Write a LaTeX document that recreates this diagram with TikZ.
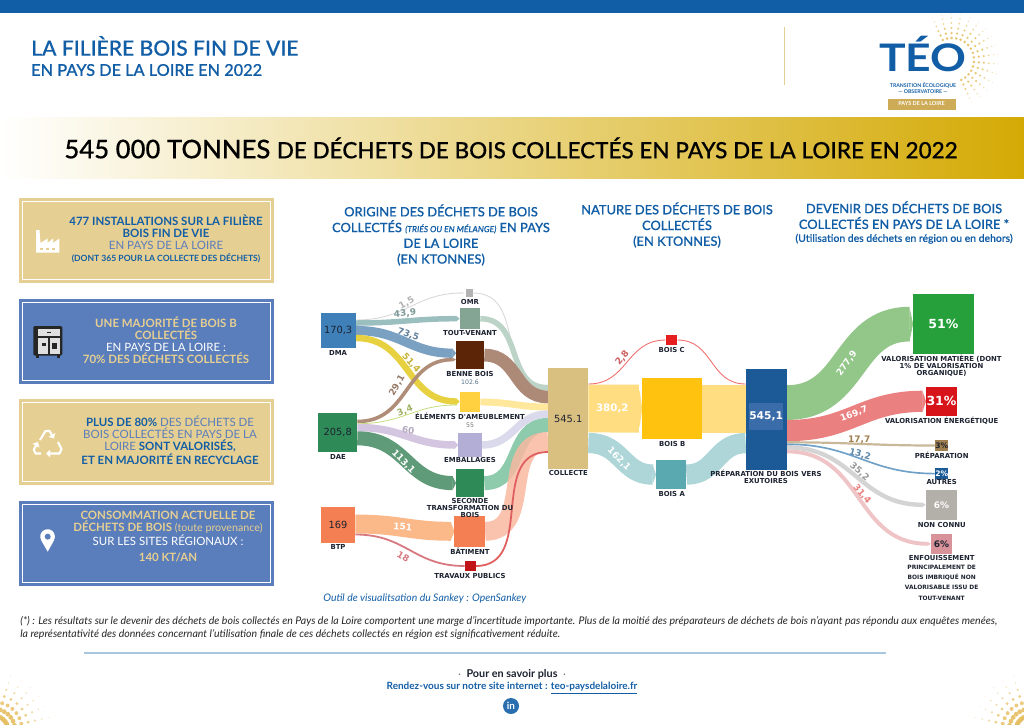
\documentclass[tikz,border=0pt]{standalone}
\usepackage{fontspec}
\usetikzlibrary{calc}
\usetikzlibrary{arrows.meta}
\usetikzlibrary{backgrounds}
\setmainfont{Lato}
\newfontfamily\medf[FakeBold=0.3]{Lato Medium}
\newfontfamily\sank{DejaVu Sans}

\definecolor{teoblue}{HTML}{125EA6}
\definecolor{midblue}{HTML}{5A7DBB}
\definecolor{teogold}{HTML}{E6CF92}
\definecolor{dotgold}{HTML}{E5BE60}
\definecolor{txtdark}{HTML}{1C2230}
\definecolor{bandend}{HTML}{D4AA05}
\definecolor{fomr}{HTML}{D8D8D8}
\definecolor{ftv}{HTML}{BCD3C8}
\definecolor{fbenne}{HTML}{AD8A78}
\definecolor{fameub}{HTML}{FFE89C}
\definecolor{femb}{HTML}{DADAEC}
\definecolor{fsec}{HTML}{84C5A5}
\definecolor{fbat}{HTML}{F8B9A0}
\definecolor{ftp}{HTML}{E06060}
\definecolor{dmatv}{HTML}{9BBFBF}
\definecolor{dmabe}{HTML}{7BA1C2}
\definecolor{dmaam}{HTML}{E8D140}
\definecolor{daebe}{HTML}{B08D78}
\definecolor{daeam}{HTML}{C5DD7C}
\definecolor{daeem}{HTML}{D4C6E0}
\definecolor{daese}{HTML}{5F9B78}
\definecolor{btpba}{HTML}{FBB98A}
\definecolor{btptp}{HTML}{D87880}
\definecolor{fboisb}{HTML}{FFDD80}
\definecolor{fboisa}{HTML}{AED6D8}
\definecolor{fboisc}{HTML}{F07070}
\definecolor{fmat}{HTML}{93C78A}
\definecolor{fene}{HTML}{EB8080}
\definecolor{fpre}{HTML}{C9B898}
\definecolor{faut}{HTML}{6FA0C8}
\definecolor{fnon}{HTML}{D4D4D4}
\definecolor{fenf}{HTML}{EFC4C6}
\definecolor{ndma}{HTML}{3F80B8}
\definecolor{ndae}{HTML}{2E8B57}
\definecolor{nbtp}{HTML}{F47F52}
\definecolor{nomr}{HTML}{B3B3B3}
\definecolor{ntv}{HTML}{85A594}
\definecolor{nbenne}{HTML}{5C2508}
\definecolor{nameub}{HTML}{FFD140}
\definecolor{nemb}{HTML}{B3AED6}
\definecolor{ntp}{HTML}{C01418}
\definecolor{ncoll}{HTML}{D9BF80}
\definecolor{nboisc}{HTML}{E62020}
\definecolor{nboisb}{HTML}{FFC20E}
\definecolor{nboisa}{HTML}{5BA9B0}
\definecolor{nprep}{HTML}{1B5A96}
\definecolor{nmat}{HTML}{26A03A}
\definecolor{nene}{HTML}{D7141A}
\definecolor{npre}{HTML}{A08050}
\definecolor{nnon}{HTML}{B3B0AA}
\definecolor{nenf}{HTML}{D8929A}

\tikzset{
  fw/.style={line width=#1*0.7113pt},
  flow/.style={fw=#1, out=0, in=180, looseness=1.15},
  tipped/.style={-{Triangle[length=2.6pt,width=0pt 1]}},
  bx/.style 2 args={draw=none, inner sep=0pt, outer sep=0pt, minimum width=#1*0.025cm, minimum height=#2*0.025cm},
  tag/.style={font=\sank\bfseries\fontsize{4.9}{5}\selectfont, text=txtdark, inner sep=0pt, align=center},
  val/.style={font=\sank\fontsize{7}{8}\selectfont, text=txtdark},
  pct/.style={font=\sank\bfseries\fontsize{8.9}{9}\selectfont, text=white},
  flab/.style={font=\sank\bfseries\fontsize{6.4}{7}\selectfont, inner sep=0pt},
  panel/.style={fw=1.6, draw=white, fill=none},
  sectitle/.style={font=\medf\fontsize{9.15}{11.2}\selectfont, text=teoblue, align=center, inner sep=0pt},
  boxtxt/.style={font=\fontsize{8.15}{8.55}\selectfont, align=center, inner sep=0pt},
  recy/.style={white, fw=2.1, line join=round, -{Triangle[length=3pt,width=5.4pt]}},
}

\begin{document}
\begin{tikzpicture}[x=0.025cm,y=-0.025cm]
\useasboundingbox (0,0) rectangle (1024,724);

\foreach \r/\s/\o in {22/1.4/.9,27/1.3/.85,32/1.2/.8,37/1/.65,42/.8/.5,46/.6/.35}
  \foreach \a in {-115,-103,...,75}
    \fill[dotgold, opacity=\o] ($(952,60)+(\a:\r)$) circle (\s);

\fill[teoblue] (0,0) rectangle (1024,13);
\node[anchor=west, text=teoblue, font=\medf\fontsize{15}{16}\selectfont, inner sep=0pt] (maintitle) at (31,46) {LA FILIÈRE BOIS FIN DE VIE};
\node[anchor=west, text=teoblue, font=\medf\fontsize{11.6}{12}\selectfont, inner sep=0pt] (subtitle) at (31,70) {EN PAYS DE LA LOIRE EN 2022};
\draw[teogold, fw=1] (784,27)--(784,85);

\node[anchor=base, text=teoblue, font=\bfseries\fontsize{27}{30}\selectfont, inner sep=0pt] (teo) at (923,71) {\scalebox{1.17}[1]{TÉO}};
\node[text=teoblue, font=\bfseries\fontsize{3.7}{4.8}\selectfont, align=center, inner sep=0pt] (teosub) at (923,88) {TRANSITION ÉCOLOGIQUE\\--- OBSERVATOIRE ---};
\node[bx={68}{11}, fill=dotgold!90!black, text=white, font=\bfseries\fontsize{3.9}{4}\selectfont] (teopays) at (921.5,104) {PAYS DE LA LOIRE};

\shade[left color=white, middle color=teogold!92!white, right color=bandend] (0,117) rectangle (1024,178);
\node[inner sep=0pt, text=black] (banner) at (511,148) {\medf\fontsize{18.3}{20}\selectfont 545 000 TONNES \fontsize{16}{20}\selectfont DE DÉCHETS DE BOIS COLLECTÉS EN PAYS DE LA LOIRE EN 2022};

\filldraw[fill=teogold, draw=none] (19,198) rectangle (274,283);
\draw[panel] (22.5,201.5) rectangle (270.5,279.5);
\filldraw[fill=midblue, draw=none] (19,299) rectangle (274,384);
\draw[panel] (22.5,302.5) rectangle (270.5,380.5);
\filldraw[fill=teogold, draw=none] (19,399) rectangle (274,485);
\draw[panel] (22.5,402.5) rectangle (270.5,481.5);
\filldraw[fill=midblue, draw=none] (19,501) rectangle (274,586);
\draw[panel] (22.5,504.5) rectangle (270.5,582.5);

\node[boxtxt, text=teoblue] (info1) at (166,239) {\bfseries 477 INSTALLATIONS SUR LA FILIÈRE\\ \bfseries BOIS FIN DE VIE\\ \textcolor{midblue}{EN PAYS DE LA LOIRE}\\ \bfseries\fontsize{6.1}{8.55}\selectfont (DONT 365 POUR LA COLLECTE DES DÉCHETS)};
\node[boxtxt, text=teogold] (info2) at (166,340) {\bfseries UNE MAJORITÉ DE BOIS B\\ \bfseries COLLECTÉS\\ \textcolor{white}{EN PAYS DE LA LOIRE :}\\ \bfseries 70\% DES DÉCHETS COLLECTÉS};
\node[boxtxt, text=midblue] (info3) at (170,440.5) {\textcolor{teoblue}{\bfseries PLUS DE 80\%} DES DÉCHETS DE\\ BOIS COLLECTÉS EN PAYS DE LA\\ LOIRE \textcolor{teoblue}{\bfseries SONT VALORISÉS,}\\ \textcolor{teoblue}{\bfseries ET EN MAJORITÉ EN RECYCLAGE}};
\node[boxtxt, text=teogold] (info4) at (168,536.5) {\bfseries CONSOMMATION ACTUELLE DE\\ \bfseries DÉCHETS DE BOIS {\mdseries\fontsize{7.6}{8.55}\selectfont(toute provenance)}\\ \textcolor{white}{SUR LES SITES RÉGIONAUX :}\\[3.2pt] \bfseries 140 KT/AN};

\fill[white] (36,252.7)--(36,230)--(39.5,230)--(40.5,243)--(47.5,238.5)--(47.5,243)--(53,238.5)--(53,243)--(59.3,238.5)--(59.3,252.7)--cycle;
\foreach \x in {40,46,52}
  \fill[teogold] (\x,247.5) rectangle (\x+3,249.5);

\filldraw[fill=black!85, draw=none, rounded corners=1] (33.3,326) rectangle (62.3,355.5);
\fill[black!85] (36,355) rectangle (39,357.7);
\fill[black!85] (57,355) rectangle (60,357.7);
\fill[black!12] (38,329) rectangle (60,336);
\fill[black!12] (38,337.5) rectangle (48,354);
\fill[black!12] (49.5,337.5) rectangle (60,354);
\fill[black!85] (42,343) rectangle (46,346);
\fill[black!85] (52,343) rectangle (57,349);
\fill[black!85] (47,331.5) rectangle (51,333);

\draw[recy] (40,440)--(45.5,431)--(49.5,431)--(54,438.5);
\draw[recy] (58,442)--(61.5,449)--(59.5,453.5)--(46,453.5);
\draw[recy] (41,453.5)--(35.5,453.5)--(33.8,449.5)--(38,442);

\fill[white] (47.7,551.7)--(41.2,540.3) arc[start angle=150, end angle=390, radius=7.4]--cycle;
\fill[midblue] (47.7,536.6) circle (3);

\node[sectitle] (titorigine) at (441,235) {ORIGINE DES DÉCHETS DE BOIS\\ COLLECTÉS {\itshape\fontsize{6}{6}\selectfont (TRIÉS OU EN MÉLANGE)} EN PAYS\\ DE LA LOIRE\\ (EN KTONNES)};
\node[sectitle] (titnature) at (677,225) {NATURE DES DÉCHETS DE BOIS\\ COLLECTÉS\\ (EN KTONNES)};
\node[sectitle] (titdevenir) at (904,222.5) {DEVENIR DES DÉCHETS DE BOIS\\ COLLECTÉS EN PAYS DE LA LOIRE *\\[-2pt] {\fontsize{7.4}{7}\selectfont (Utilisation des déchets en région ou en dehors)}};

\node[bx={35.2}{35.6}, fill=ndma, val] (dma) at (338.1,330.5) {170,3};
\node[bx={39}{38.4}, fill=ndae, val] (dae) at (337.8,432.5) {205,8};
\node[bx={34.6}{35.4}, fill=nbtp, val] (btp) at (338,525) {169};
\node[bx={7.4}{7.4}, fill=nomr] (omr) at (469.7,293) {};
\node[bx={20.6}{20.7}, fill=ntv] (tv) at (470,318.7) {};
\node[bx={28.3}{28.3}, fill=nbenne] (benne) at (470.2,355.1) {};
\node[bx={20.6}{20.6}, fill=nameub] (ameub) at (470,402) {};
\node[bx={23.4}{23.4}, fill=nemb] (emb) at (470,445) {};
\node[bx={28.3}{28.3}, fill=ndae] (seconde) at (470.2,483.1) {};
\node[bx={30.7}{30.7}, fill=nbtp] (bat) at (469.7,531.3) {};
\node[bx={11}{10.6}, fill=ntp] (tp) at (470.2,566) {};
\node[bx={40.3}{100.7}, fill=ncoll, val] (coll) at (568.2,418.7) {545.1};
\node[bx={11.6}{9.4}, fill=nboisc] (boisc) at (671.5,340) {};
\node[bx={60}{60.7}, fill=nboisb] (boisb) at (672.3,408.6) {};
\node[bx={30.3}{29.3}, fill=nboisa] (boisa) at (671.2,474.6) {};
\node[bx={41}{100.7}, fill=nprep] (prep) at (766.2,419.6) {};
\node[bx={32}{27}, fill=midblue!50!nprep, pct, font=\sank\bfseries\fontsize{7.6}{8}\selectfont] (prepval) at (766.2,416.5) {545,1};
\node[bx={60.7}{60.3}, fill=nmat, pct] (matiere) at (943.4,324.1) {51\%};
\node[bx={31}{29.3}, fill=nene, pct] (energie) at (941.5,401.3) {31\%};
\node[bx={10.7}{10.4}, fill=npre, pct, font=\sank\bfseries\fontsize{5.4}{6}\selectfont, text=txtdark] (prepa) at (941.7,445.5) {3\%};
\node[bx={11}{10.7}, fill=nprep, pct, font=\sank\bfseries\fontsize{5.4}{6}\selectfont] (autres) at (941.8,473.6) {2\%};
\node[bx={31.3}{30.3}, fill=nnon, pct, font=\sank\bfseries\fontsize{6.4}{7}\selectfont] (nonconnu) at (941.4,504.8) {6\%};
\node[bx={20.7}{20.3}, fill=nenf, pct, font=\sank\bfseries\fontsize{6.4}{7}\selectfont, text=txtdark] (enfouis) at (941.4,543.8) {6\%};

\begin{scope}[on background layer]
\draw[flow=.9, fomr, tipped] ($(dma.east)+(0,-10.5)$) to (omr.west);
\draw[flow=.9, fomr] (omr.east) to ($(coll.west)+(0,-33.5)$);
\draw[flow=5.5, ftv] (tv.east) to ($(coll.west)+(0,-30.7)$);
\draw[flow=12.8, fbenne] (benne.east) to ($(coll.west)+(0,-21.7)$);
\draw[flow=6.9, fameub] (ameub.east) to ($(coll.west)+(0,-11.7)$);
\draw[flow=7.5, femb] (emb.east) to ($(coll.west)+(0,-4.7)$);
\draw[flow=14.1, fsec, opacity=.92] (seconde.east) to ($(coll.west)+(0,6.3)$);
\draw[flow=18.9, fbat, opacity=.85] (bat.east) to ($(coll.west)+(0,22.8)$);
\draw[flow=1.8, ftp] (tp.east) to ($(coll.west)+(0,33.3)$);

\draw[flow=5.5, dmatv, tipped] ($(dma.east)+(0,-7.5)$) to (tv.west);
\draw[flow=9.2, dmabe, tipped] (dma.east) to ($(benne.west)+(0,-1.9)$);
\draw[flow=6.4, dmaam, tipped] ($(dma.east)+(0,7.5)$) to ($(ameub.west)+(0,-.5)$);
\draw[flow=3.6, daebe, tipped] ($(dae.east)+(0,-11)$) to ($(benne.west)+(0,4.5)$);
\draw[flow=.8, daeam, tipped] ($(dae.east)+(0,-8.8)$) to ($(ameub.west)+(0,3)$);
\draw[flow=7.5, daeem, tipped] ($(dae.east)+(0,-5)$) to (emb.west);
\draw[flow=14.1, daese, tipped] ($(dae.east)+(0,5.8)$) to (seconde.west);
\draw[flow=18.9, btpba, tipped] ($(btp.east)+(0,-1)$) to (bat.west);
\draw[flow=1.8, btptp] ($(btp.east)+(0,9.5)$) to (tp.west);

\draw[flow=47.9, fboisb, tipped] ($(coll.east)+(0,-10.2)$) to (boisb.west);
\draw[flow=47.9, fboisb] (boisb.east) to ($(prep.west)+(0,-11)$);
\draw[flow=20.3, fboisa, tipped] ($(coll.east)+(0,24.3)$) to (boisa.west);
\draw[flow=20.3, fboisa] (boisa.east) to ($(prep.west)+(0,23.5)$);
\draw[flow=.9, fboisc] ($(coll.east)+(0,-34.7)$) to (boisc.west);
\draw[flow=.9, fboisc] (boisc.east) to ($(prep.west)+(0,-35.6)$);

\draw[flow=34.7, fmat, tipped] ($(prep.east)+(0,-17)$) to (matiere.west);
\draw[flow=21.2, fene, tipped] ($(prep.east)+(0,11)$) to (energie.west);
\draw[flow=3.9, fenf, tipped] ($(prep.east)+(0,31.8)$) to (enfouis.west);
\draw[flow=4.4, fnon, tipped] ($(prep.east)+(0,27.7)$) to (nonconnu.west);
\draw[flow=1.65, faut] ($(prep.east)+(0,24.6)$) to (autres.west);
\draw[flow=2.2, fpre] ($(prep.east)+(0,22.7)$) to (prepa.west);
\end{scope}

\node[tag] (tdma) at (338,353.3) {DMA};
\node[tag] (tdae) at (338,457.3) {DAE};
\node[tag] (tbtp) at (338,547.3) {BTP};
\node[tag] (tomr) at (470,301.7) {OMR};
\node[tag] (ttv) at (470,333.3) {TOUT-VENANT};
\node[tag] (tbenne) at (470,374) {BENNE BOIS};
\node[tag, font=\sank\fontsize{4.4}{5}\selectfont, text=dmabe!70!black] (vbenne) at (470,382) {102.6};
\node[tag] (tameub) at (470,416.3) {ÉLÉMENTS D'AMEUBLEMENT};
\node[tag, font=\sank\fontsize{4.4}{5}\selectfont, text=black!55] (vameub) at (470,425.3) {55};
\node[tag] (temb) at (470,460.3) {EMBALLAGES};
\node[tag, font=\sank\bfseries\fontsize{4.9}{5.1}\selectfont] (tsec) at (470,508) {SECONDE\\TRANSFORMATION DU\\BOIS};
\node[tag] (tbat) at (470,551) {BÂTIMENT};
\node[tag] (ttp) at (470,575.7) {TRAVAUX PUBLICS};
\node[tag] (tcoll) at (568.3,473.3) {COLLECTE};
\node[tag] (tboisc) at (671.7,349.7) {BOIS C};
\node[tag] (tboisb) at (672.3,443.7) {BOIS B};
\node[tag] (tboisa) at (671.7,493.7) {BOIS A};
\node[tag, font=\sank\bfseries\fontsize{4.9}{4.6}\selectfont] (tprep) at (766,477) {PRÉPARATION DU BOIS VERS\\EXUTOIRES};
\node[tag] (tmat) at (941.5,365.5) {VALORISATION MATIÈRE (DONT\\1\% DE VALORISATION\\ORGANIQUE)};
\node[tag] (tene) at (941.7,420.3) {VALORISATION ÉNERGÉTIQUE};
\node[tag] (tpre) at (941.7,455.3) {PRÉPARATION};
\node[tag] (taut) at (941.7,482.3) {AUTRES};
\node[tag] (tnon) at (941.7,524.7) {NON CONNU};
\node[tag] (tenf) at (941.7,558.3) {ENFOUISSEMENT};
\node[tag, font=\sank\bfseries\fontsize{4.2}{7.4}\selectfont] (tenf2) at (941.7,582.5) {PRINCIPALEMENT DE\\BOIS IMBRIQUÉ NON\\VALORISABLE ISSU DE\\TOUT-VENANT};

\node[flab, text=black!30, rotate=30] (l1) at (406.7,303) {1,5};
\node[flab, text=dmatv!80!black, rotate=5] (l2) at (405,313.5) {43,9};
\node[flab, text=dmabe!80!black, rotate=-20] (l3) at (408.3,334.5) {73,5};
\node[flab, text=dmaam!85!black, rotate=-48] (l4) at (411,363) {51,4};
\node[flab, text=daebe!85!black, rotate=60] (l5) at (397,385.5) {29,1};
\node[flab, text=daeam!80!black, rotate=20] (l6) at (405,411) {3,4};
\node[flab, text=daeem!85!black, rotate=-10] (l7) at (408.3,430) {60};
\node[flab, text=white, rotate=-45] (l8) at (403.3,461.7) {113,1};
\node[flab, text=white, rotate=-5] (l9) at (402.7,526.7) {151};
\node[flab, text=btptp, rotate=-30] (l10) at (403.3,556.7) {18};
\node[flab, text=fboisc!85!black, rotate=50] (l11) at (622.3,358) {2,8};
\node[flab, text=white, font=\sank\bfseries\fontsize{7.3}{8}\selectfont] (l12) at (612.3,408.3) {380,2};
\node[flab, text=white, rotate=-45] (l13) at (619,459) {162,1};
\node[flab, text=white, rotate=55] (l14) at (846.7,363.3) {277,9};
\node[flab, text=white, rotate=20] (l15) at (854,414) {169,7};
\node[flab, text=npre] (l16) at (859.3,439.5) {17,7};
\node[flab, text=faut!85!black, rotate=-15] (l17) at (860,454.5) {13,2};
\node[flab, text=black!40, rotate=-40] (l18) at (859.5,472) {35,2};
\node[flab, text=fene, rotate=-50] (l19) at (862,494) {31,4};

\node[anchor=west, text=teoblue, font=\itshape\fontsize{7.4}{8}\selectfont, inner sep=0pt] (outil) at (323,599) {Outil de visualitsation du Sankey : OpenSankey};
\node[anchor=north west, text=black!85, font=\itshape\fontsize{7.5}{9.2}\selectfont, align=left, inner sep=0pt] (note) at (20,616.5) {(*) : Les résultats sur le devenir des déchets de bois collectés en Pays de la Loire comportent une marge d'incertitude importante. Plus de la moitié des préparateurs de déchets de bois n'ayant pas répondu aux enquêtes menées,\\la représentativité des données concernant l'utilisation finale de ces déchets collectés en région est significativement réduite.};
\draw[ndma!45!white, fw=1.3] (84,653)--(886,653);
\node[text=txtdark, font=\bfseries\fontsize{7.7}{8}\selectfont, inner sep=0pt] (savoir) at (512,674) {$\cdot$\enspace Pour en savoir plus\enspace$\cdot$};
\node[text=teoblue, font=\bfseries\fontsize{7.1}{8}\selectfont, inner sep=0pt] (rdv) at (512,688) {Rendez-vous sur notre site internet : \underline{teo-paysdelaloire.fr}};
\node[circle, fill=ndma!50!teoblue, text=white, minimum size=0.4cm, inner sep=0pt, font=\bfseries\fontsize{7}{8}\selectfont] (linkedin) at (511,706) {in};

\foreach \r/\s/\o in {14/2.6/.95,21/2.4/.9,28/2/.8,35/1.6/.7,42/1.2/.55,49/.9/.4,56/.6/.3,63/.4/.2}
  \foreach \a in {-85,-73,...,-5} {
    \fill[dotgold, opacity=\o] ($(-6,730)+(\a:\r)$) circle (\s);
    \fill[dotgold, opacity=\o] ($(1030,730)+(180-\a:\r)$) circle (\s);
  }

\end{tikzpicture}
\end{document}
